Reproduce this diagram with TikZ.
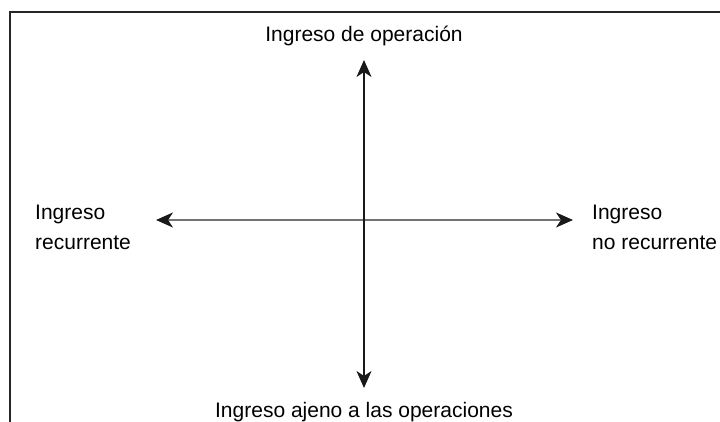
\documentclass[tikz,border=0pt]{standalone}
\usepackage{fontspec}
\setmainfont{Liberation Sans}
\usepackage{tikz}
\usetikzlibrary{arrows.meta,positioning}

\begin{document}
\begin{tikzpicture}[
  x=1pt, y=-1pt,
  node distance=4pt,
  label/.style={font=\fontsize{21}{30}\selectfont, inner sep=0pt, align=left},
  axis/.style={{Stealth[length=17pt,width=15pt,inset=5pt,color=black!90]}-{Stealth[length=17pt,width=15pt,inset=5pt,color=black!90]}, line width=1.4pt},
  frame/.style={draw=black!85, line width=2.2pt}
]
\useasboundingbox (0,0) rectangle (720,422);
\draw[frame] (10,422) -- (10,12) -- (720,12);

\coordinate (top) at (364,60);
\coordinate (bottom) at (364,388);
\coordinate (left) at (156,220);
\coordinate (right) at (573,220);

\draw[axis, draw=black!55] (left) -- (right);
\draw[axis, draw=black!90] (top) -- (bottom);

\node[label, above=14pt of top] (operacion) {Ingreso de operación};
\node[label, below=14pt of bottom] (ajeno) {Ingreso ajeno a las operaciones};
\node[label, anchor=west] (recurrente) at (35,227) {Ingreso\\recurrente};
\node[label, anchor=west] (norecurrente) at (592,227) {Ingreso\\no recurrente};
\end{tikzpicture}
\end{document}
